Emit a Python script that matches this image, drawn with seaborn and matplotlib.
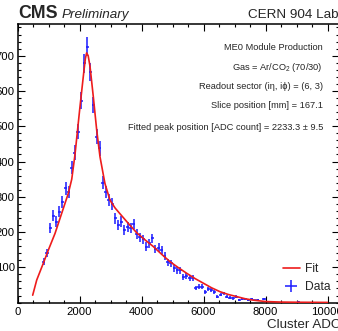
import numpy as np
import pandas as pd
import matplotlib
matplotlib.use("Agg")
import matplotlib.pyplot as plt
import seaborn as sns

# ---- data ----
bin_centers = [850, 950, 1050, 1150, 1250, 1350, 1450, 1550, 1650, 1750,
               1850, 1950, 2050, 2150, 2250, 2350, 2450, 2550, 2650, 2750,
               2850, 2950, 3050, 3150, 3250, 3350, 3450, 3550, 3650, 3750,
               3850, 3950, 4050, 4150, 4250, 4350, 4450, 4550, 4650, 4750,
               4850, 4950, 5050, 5150, 5250, 5350, 5450, 5550, 5650, 5750,
               5850, 5950, 6050, 6150, 6250, 6350, 6450, 6550, 6650, 6750,
               6850, 6950, 7050, 7150, 7250, 7350, 7450, 7550, 7650, 7750,
               7950, 9050]
counts = [116, 141, 211, 246, 229, 258, 286, 324, 314, 383,
          425, 485, 572, 678, 725, 655, 560, 470, 437, 340,
          314, 290, 280, 239, 220, 229, 206, 215, 211, 223,
          195, 185, 179, 159, 168, 182, 152, 156, 149, 132,
          114, 111, 97, 92, 92, 73, 76, 71, 71, 41,
          45, 45, 31, 38, 36, 31, 17, 22, 26, 17,
          14, 12, 17, 8, 9, 10, 8, 9, 6, 8,
          11, 3]
bin_half_width = 50

fit_x = [490, 620, 830, 995, 1210, 1425, 1640, 1750, 1855, 2015, 2145,
         2190, 2230, 2280, 2340, 2445, 2555, 2660, 2820, 2985, 3150, 3305,
         3580, 3845, 4110, 4380, 4650, 4920, 5190, 5460, 5730, 5995, 6260,
         6530, 6800, 7070, 7340, 7600, 8000, 8500, 9000, 10000]
fit_y = [21, 64, 111, 149, 196, 253, 310, 350, 420, 555, 659,
         692, 708, 700, 669, 584, 489, 414, 338, 290, 268, 252,
         224, 198, 178, 159, 137, 116, 99, 83, 68, 55, 42,
         31, 23, 17, 11, 7, 3, 1.5, 1, 0.5]

x_ticks = [0, 2000, 4000, 6000, 8000, 10000]
y_ticks = [100, 200, 300, 400, 500, 600, 700]

annotation_lines = [
    "ME0 Module Production",
    "Gas = Ar/CO$_2$ (70/30)",
    "Readout sector (i\u03b7, i\u03d5) = (6, 3)",
    "Slice position [mm] = 167.1",
    "Fitted peak position [ADC count] = 2233.3 \u00b1 9.5",
]

# ---- style ----
sns.set_style("ticks")
plt.rcParams["font.family"] = ["Liberation Sans", "DejaVu Sans"]
plt.rcParams["mathtext.fontset"] = "custom"
plt.rcParams["mathtext.rm"] = "Liberation Sans"
plt.rcParams["mathtext.it"] = "Liberation Sans:italic"

W, H = 338, 331
fig = plt.figure(figsize=(W / 100, H / 100), dpi=100)
x0, x1 = 17.5, 339.0
y_top, y_bot = 24.0, 302.6
ax = fig.add_axes([x0 / W, (H - y_bot) / H, (x1 - x0) / W, (y_bot - y_top) / H])

df_fit = pd.DataFrame({"x": fit_x, "y": fit_y})
df_data = pd.DataFrame({"x": bin_centers, "y": counts})

ax.errorbar(df_data["x"], df_data["y"], yerr=np.sqrt(df_data["y"]),
            xerr=bin_half_width, fmt="none", ecolor="#1a1aff",
            elinewidth=1.1, capsize=0, zorder=2, label="Data")
sns.lineplot(data=df_fit, x="x", y="y", ax=ax, color="#ee1c1c",
             linewidth=1.2, zorder=3, label="Fit", sort=False)

ax.set_xlim(0, (x1 - x0) / 31.0 * 1000)
ax.set_ylim(0, (y_bot - y_top) / 0.3527)
ax.set_xticks(x_ticks)
ax.set_yticks(y_ticks)
ax.xaxis.set_minor_locator(matplotlib.ticker.MultipleLocator(500))
ax.yaxis.set_minor_locator(matplotlib.ticker.MultipleLocator(20))
ax.tick_params(which="both", direction="in", top=True, right=True,
               labelsize=8.1, width=0.8, colors="black")
ax.tick_params(which="major", length=4.8)
ax.tick_params(axis="x", which="major", pad=3.0)
ax.tick_params(axis="y", which="major", pad=2.0)
ax.tick_params(which="minor", length=2.4)
for s in ax.spines.values():
    s.set_linewidth(1.1)
    s.set_color("black")
    s.set_visible(True)

ax.set_xlabel("")
ax.set_ylabel("")
fig.text(267 / W, 1 - 331 / H, "Cluster ADC count", fontsize=9.6,
         ha="left", va="bottom")

# header
fig.text(18 / W, 1 - 18 / H, "CMS", fontsize=12.8, fontweight="bold",
         ha="left", va="baseline")
fig.text(62 / W, 1 - 18 / H, "Preliminary", fontsize=9.7, style="italic",
         ha="left", va="baseline")
fig.text(248 / W, 1 - 18 / H, "CERN 904 Lab", fontsize=9.7,
         ha="left", va="baseline")

# annotation
ys = [47, 67, 87, 106, 127]
for t, yy in zip(annotation_lines, ys):
    fig.text(323 / W, 1 - yy / H, t, fontsize=6.7, ha="right", va="center")

# legend: Fit then Data
handles, labels = ax.get_legend_handles_labels()
order = [labels.index("Fit"), labels.index("Data")]
leg = ax.legend([handles[i] for i in order], [labels[i] for i in order],
                loc="lower right", bbox_to_anchor=(0.975, 0.035),
                frameon=False, fontsize=8.7, handlelength=1.4,
                handletextpad=0.45, labelspacing=0.45, borderpad=0,
                borderaxespad=0)

fig.savefig("out.png", dpi=100)
